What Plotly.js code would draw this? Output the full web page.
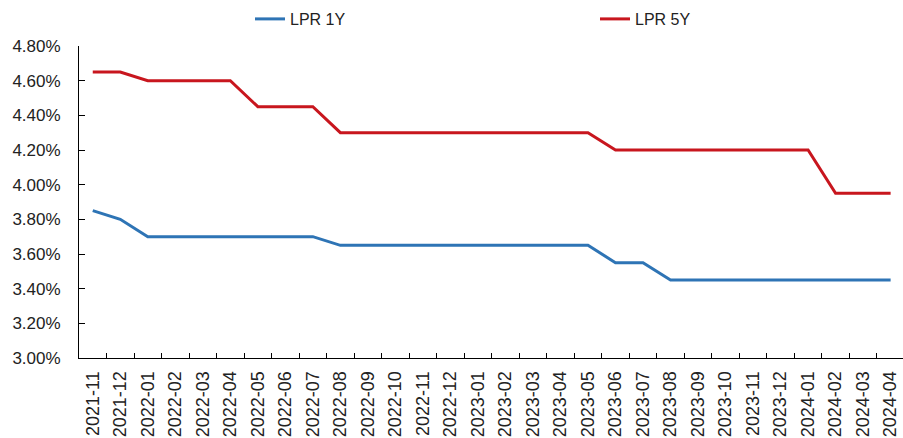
<!DOCTYPE html>
<html>
<head>
<meta charset="utf-8">
<script src="https://cdn.plot.ly/plotly-3.0.1.min.js"></script>
<style>html,body{margin:0;padding:0;background:#fff;}#chart{width:903px;height:438px;}</style>
</head>
<body>
<div id="chart"></div>
<script>
const months = ["2021-11","2021-12","2022-01","2022-02","2022-03","2022-04","2022-05","2022-06","2022-07","2022-08","2022-09","2022-10","2022-11","2022-12","2023-01","2023-02","2023-03","2023-04","2023-05","2023-06","2023-07","2023-08","2023-09","2023-10","2023-11","2023-12","2024-01","2024-02","2024-03","2024-04"];
const lpr1y = [3.85,3.80,3.70,3.70,3.70,3.70,3.70,3.70,3.70,3.65,3.65,3.65,3.65,3.65,3.65,3.65,3.65,3.65,3.65,3.55,3.55,3.45,3.45,3.45,3.45,3.45,3.45,3.45,3.45,3.45];
const lpr5y = [4.65,4.65,4.60,4.60,4.60,4.60,4.45,4.45,4.45,4.30,4.30,4.30,4.30,4.30,4.30,4.30,4.30,4.30,4.30,4.20,4.20,4.20,4.20,4.20,4.20,4.20,4.20,3.95,3.95,3.95];
const seriesNames = ["LPR 1Y","LPR 5Y"];

const font = "Liberation Sans, Arial, sans-serif";
const traces = [
  {x: months, y: lpr1y, name: seriesNames[0], type: "scatter", mode: "lines", line: {color: "#2E74B5", width: 3}, legend: "legend"},
  {x: months, y: lpr5y, name: seriesNames[1], type: "scatter", mode: "lines", line: {color: "#C8161E", width: 3}, legend: "legend2"}
];
const legStyle = {orientation: "h", xref: "container", yref: "container", xanchor: "left", yanchor: "middle", y: 1 - 19/438,
  font: {family: font, size: 16, color: "#222"}, bgcolor: "rgba(0,0,0,0)", borderwidth: 0};
const layout = {
  width: 903, height: 438,
  margin: {l: 79, r: 0, t: 46, b: 80},
  paper_bgcolor: "#fff", plot_bgcolor: "#fff",
  font: {family: font, color: "#222", size: 17},
  showlegend: true,
  legend: Object.assign({}, legStyle, {x: 250/903}),
  legend2: Object.assign({}, legStyle, {x: 595/903}),
  xaxis: {type: "category", range: [-0.5, 29.45], showline: true, linecolor: "#000", linewidth: 1,
    ticks: "inside", tickson: "boundaries", ticklen: 5, tickcolor: "#000", showgrid: false, zeroline: false,
    tickangle: -90, tickfont: {family: font, size: 18, color: "#222"}, ticklabelstandoff: 5},
  yaxis: {range: [3.0, 4.8], tick0: 3.0, dtick: 0.2, tickformat: ".2f", ticksuffix: "%",
    showline: true, linecolor: "#000", linewidth: 1, ticks: "inside", ticklen: 6, tickcolor: "#000",
    showgrid: false, zeroline: false, tickfont: {family: font, size: 17, color: "#222"}, ticklabelstandoff: 14}
};
Plotly.newPlot("chart", traces, layout, {displayModeBar: false, staticPlot: true});
</script>
</body>
</html>
